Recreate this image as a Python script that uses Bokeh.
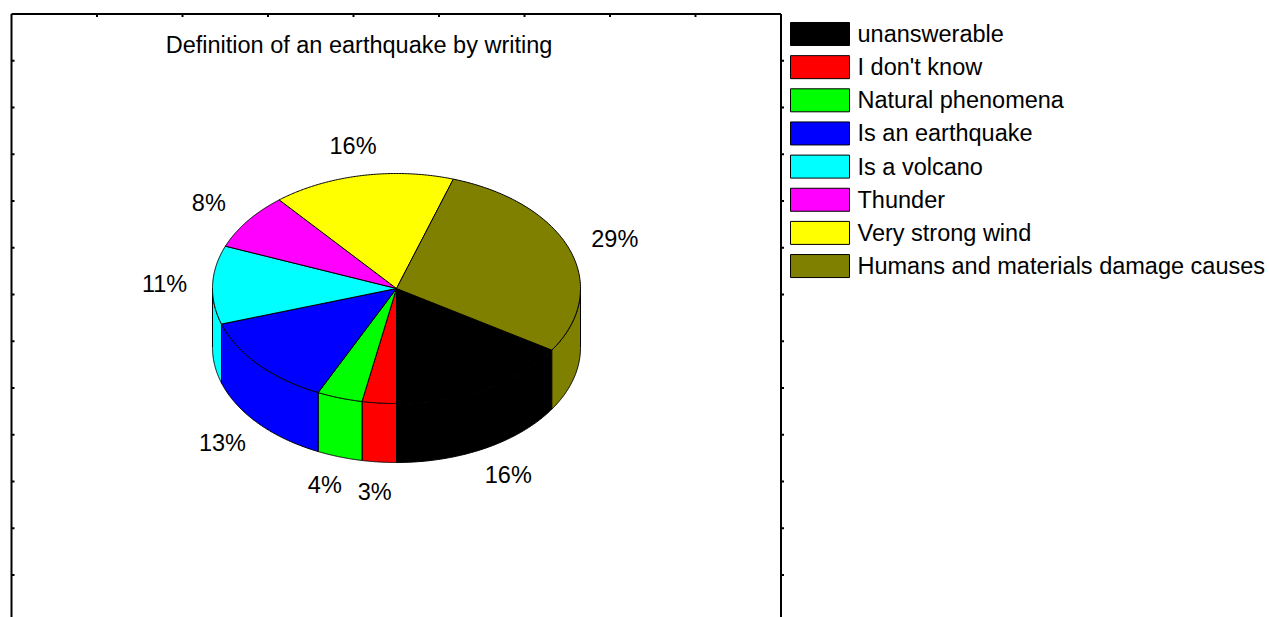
import numpy as np
from bokeh.plotting import figure
from bokeh.models import Range1d
from bokeh.core.properties import value
from bokeh.embed import file_html
from bokeh.resources import INLINE

# ---------------- data ----------------
categories = ["unanswerable", "I don't know", "Natural phenomena", "Is an earthquake",
              "Is a volcano", "Thunder", "Very strong wind", "Humans and materials damage causes"]
percents = [16, 3, 4, 13, 11, 8, 16, 29]
colors = ["#000000", "#FF0000", "#00FF00", "#0000FF", "#00FFFF", "#FF00FF", "#FFFF00", "#808000"]
title_text = "Definition of an earthquake by writing"

# ---------------- layout ----------------
W, H = 1269, 617
FONT = value("Liberation Sans")
FS = "23.5px"

CX, CY = 396.0, 288.0      # pie centre (page px)
RX, RY = 184.0, 115.0      # top ellipse radii
DEPTH = 59.0               # pie thickness
START_DEG = -32.4          # first slice starts here, going clockwise
LRX, LRY = 232.0, 145.0    # label ellipse

p = figure(width=W, height=H, output_backend="svg", toolbar_location=None,
           x_range=Range1d(0, W), y_range=Range1d(H, 0),
           x_axis_location=None, y_axis_location=None, min_border=0,
           background_fill_color="white", border_fill_color="white")
p.outline_line_color = None
p.grid.visible = False

# ---------------- frame ----------------
FL, FR, FT = 11.0, 780.5, 13.5
p.line([FL, FL], [FT, 700], line_color="black", line_width=2)
p.line([FR, FR], [FT, 700], line_color="black", line_width=2)
p.line([FL, FR], [FT, FT], line_color="black", line_width=2)
ty = [FT + 46.75 * k for k in range(1, 13)]
p.segment(x0=[FL] * len(ty), y0=ty, x1=[FL + 3] * len(ty), y1=ty, line_color="black", line_width=2)
p.segment(x0=[FR] * len(ty), y0=ty, x1=[FR + 3] * len(ty), y1=ty, line_color="black", line_width=2)
tx = [FL + 85.5 * k for k in range(1, 9)]
p.segment(x0=tx, y0=[FT] * len(tx), x1=tx, y1=[FT + 3] * len(tx), line_color="black", line_width=2)

# ---------------- pie ----------------
total = float(sum(percents))
bounds = []
t0 = START_DEG
for v in percents:
    t1 = t0 - 360.0 * v / total
    bounds.append((t1, t0))
    t0 = t1


def ex(t):
    return CX + RX * np.cos(np.radians(t))


def ey(t):
    return CY - RY * np.sin(np.radians(t))


# side walls (front half: -180..0 deg, modulo 360)
side_xs, side_ys, side_cols = [], [], []
for (a, b), c in zip(bounds, colors):
    for k in (-2, -1, 0, 1):
        lo, hi = -180.0 + 360 * k, 0.0 + 360 * k
        s, e = max(a, lo), min(b, hi)
        if e > s:
            t = np.linspace(s, e, 80)
            xs = list(ex(t)) + list(ex(t[::-1]))
            ys = list(ey(t)) + list(ey(t[::-1]) + DEPTH)
            side_xs.append(xs)
            side_ys.append(ys)
            side_cols.append(c)
p.patches(side_xs, side_ys, fill_color=side_cols, line_color="black", line_width=1)

# top faces
top_xs, top_ys = [], []
for (a, b) in bounds:
    t = np.linspace(b, a, 120)
    top_xs.append([CX] + list(ex(t)))
    top_ys.append([CY] + list(ey(t)))
p.patches(top_xs, top_ys, fill_color=colors, line_color="black", line_width=1)

# percentage labels
lx, ly, lt = [], [], []
for (a, b), v in zip(bounds, percents):
    m = np.radians((a + b) / 2.0)
    lx.append(CX + LRX * np.cos(m))
    ly.append(CY - LRY * np.sin(m) + (DEPTH if np.sin(m) < 0 else 0.0))
    lt.append(f"{v}%")
p.text(lx, ly, text=lt, text_font=FONT, text_font_size=FS, text_align="center",
       text_baseline="middle", text_color="black")

# title
p.text([358.5], [44], text=[title_text], text_font=FONT, text_font_size=FS,
       text_align="center", text_baseline="middle", text_color="black")

# ---------------- legend ----------------
LEG_X, LEG_W, LEG_H = 819.5, 59, 23
LEG_Y0, LEG_DY = 33.5, 33.15
leg_y = [LEG_Y0 + i * LEG_DY for i in range(len(categories))]
p.rect([LEG_X] * len(categories), leg_y, width=LEG_W, height=LEG_H,
       fill_color=colors, line_color="black", line_width=1)
p.text([857] * len(categories), leg_y, text=categories, text_font=FONT, text_font_size=FS,
       text_align="left", text_baseline="middle", text_color="black")

open("out.html", "w").write(file_html(p, INLINE))
